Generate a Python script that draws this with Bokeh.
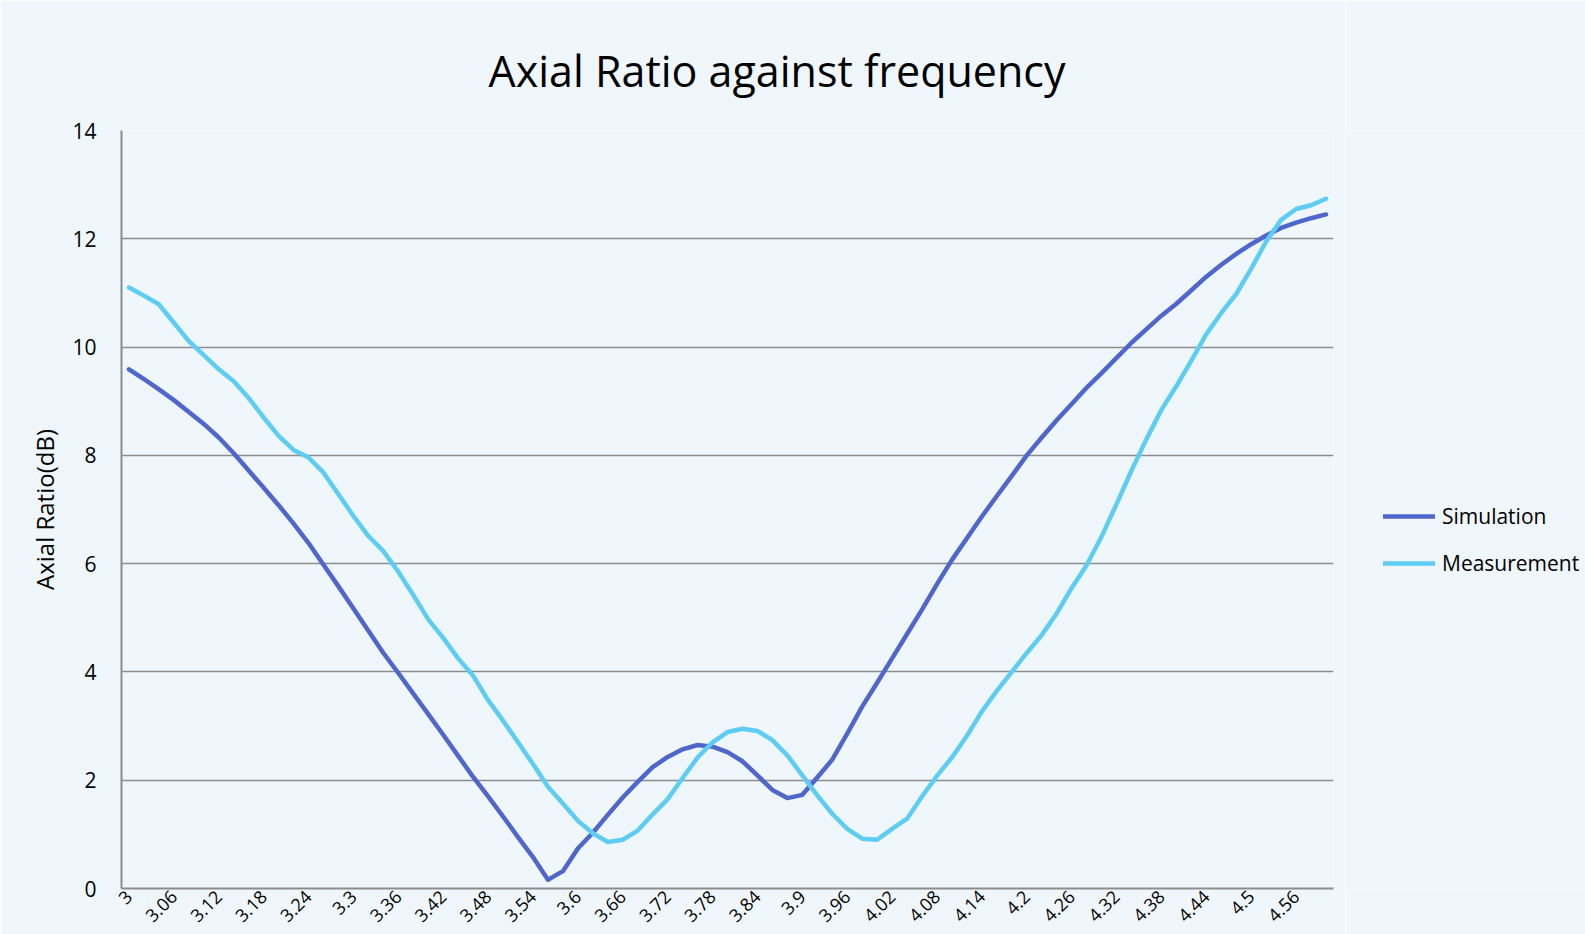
import math
from bokeh.plotting import figure
from bokeh.layouts import row
from bokeh.models import Range1d, FixedTicker, Legend, LegendItem
from bokeh.embed import file_html
from bokeh.resources import INLINE

freq_labels = [
    "3", "3.02", "3.04", "3.06", "3.08", "3.1", "3.12", "3.14", "3.16", "3.18",
    "3.2", "3.22", "3.24", "3.26", "3.28", "3.3", "3.32", "3.34", "3.36", "3.38",
    "3.4", "3.42", "3.44", "3.46", "3.48", "3.5", "3.52", "3.54", "3.56", "3.58",
    "3.6", "3.62", "3.64", "3.66", "3.68", "3.7", "3.72", "3.74", "3.76", "3.78",
    "3.8", "3.82", "3.84", "3.86", "3.88", "3.9", "3.92", "3.94", "3.96", "3.98",
    "4", "4.02", "4.04", "4.06", "4.08", "4.1", "4.12", "4.14", "4.16", "4.18",
    "4.2", "4.22", "4.24", "4.26", "4.28", "4.3", "4.32", "4.34", "4.36", "4.38",
    "4.4", "4.42", "4.44", "4.46", "4.48", "4.5", "4.52", "4.54", "4.56", "4.58",
    "4.6",
]

simulation = [
    9.59, 9.41, 9.22, 9.02, 8.80, 8.58, 8.33, 8.04, 7.72, 7.40,
    7.08, 6.74, 6.38, 5.98, 5.58, 5.17, 4.76, 4.35, 3.98, 3.60,
    3.22, 2.84, 2.45, 2.06, 1.70, 1.33, 0.95, 0.58, 0.16, 0.32,
    0.74, 1.03, 1.36, 1.68, 1.97, 2.24, 2.43, 2.57, 2.65, 2.62,
    2.52, 2.35, 2.09, 1.82, 1.67, 1.73, 2.05, 2.38, 2.86, 3.36,
    3.80, 4.25, 4.70, 5.15, 5.62, 6.07, 6.47, 6.87, 7.25, 7.62,
    8.00, 8.33, 8.65, 8.95, 9.25, 9.52, 9.80, 10.08, 10.33, 10.58,
    10.80, 11.05, 11.30, 11.52, 11.72, 11.90, 12.06, 12.20, 12.30, 12.38,
    12.45,
]

measurement = [
    11.10, 10.95, 10.79, 10.45, 10.11, 9.85, 9.59, 9.37, 9.06, 8.70,
    8.36, 8.10, 7.96, 7.68, 7.28, 6.88, 6.51, 6.23, 5.85, 5.42,
    4.97, 4.63, 4.25, 3.93, 3.48, 3.10, 2.70, 2.30, 1.88, 1.57,
    1.25, 1.02, 0.86, 0.90, 1.07, 1.37, 1.65, 2.04, 2.42, 2.70,
    2.89, 2.95, 2.91, 2.74, 2.46, 2.09, 1.72, 1.38, 1.10, 0.92,
    0.90, 1.10, 1.29, 1.70, 2.08, 2.42, 2.82, 3.27, 3.65, 4.00,
    4.35, 4.68, 5.08, 5.55, 5.97, 6.50, 7.10, 7.72, 8.30, 8.84,
    9.28, 9.75, 10.24, 10.63, 10.98, 11.45, 11.95, 12.35, 12.55, 12.62,
    12.74,
]

series_names = ["Simulation", "Measurement"]
series_colors = ["#4F66CC", "#5DCDF3"]

x = list(range(len(freq_labels)))
FONT = "Open Sans"
BG = "#F0F7FC"
W_MAIN = 1345
W_LEG = 1585 - W_MAIN
H = 934

p = figure(width=W_MAIN, height=H, output_backend="svg", toolbar_location=None,
           x_range=Range1d(-0.5, len(freq_labels) - 0.5), y_range=Range1d(0, 14),
           min_border_left=121, min_border_right=W_MAIN - 1333, min_border_top=130,
           min_border_bottom=46)

p.background_fill_color = BG
p.border_fill_color = BG
p.outline_line_color = None

p.title.text = "Axial Ratio against frequency"
p.title.text_font = FONT
p.title.text_font_size = "43px"
p.title.text_font_style = "normal"
p.title.text_color = "#000000"
p.title.align = "left"
p.title.offset = 367
p.title.standoff = 61

# x axis
xa = p.xaxis[0]
xa.ticker = FixedTicker(ticks=x[::3])
xa.major_label_overrides = {i: freq_labels[i] for i in x[::3]}
xa.major_label_orientation = math.pi / 4
xa.major_label_text_font = FONT
xa.major_label_text_font_size = "18px"
xa.major_label_text_color = "#000000"
xa.major_label_standoff = 5
xa.major_tick_out = 0
xa.major_tick_in = 0
xa.major_tick_line_color = None
xa.minor_tick_line_color = None
xa.axis_line_color = "#8C8C8C"
xa.axis_line_width = 2

# y axis
ya = p.yaxis[0]
ya.ticker = FixedTicker(ticks=[0, 2, 4, 6, 8, 10, 12, 14])
ya.axis_label = "Axial Ratio(dB)"
ya.axis_label_text_font = FONT
ya.axis_label_text_font_size = "24px"
ya.axis_label_text_font_style = "normal"
ya.axis_label_text_color = "#000000"
ya.axis_label_standoff = 8
ya.major_label_text_font = FONT
ya.major_label_text_font_size = "21px"
ya.major_label_text_color = "#000000"
ya.major_label_standoff = 25
ya.major_tick_out = 0
ya.major_tick_in = 0
ya.major_tick_line_color = None
ya.minor_tick_line_color = None
ya.axis_line_color = "#8C8C8C"
ya.axis_line_width = 2

p.xgrid.grid_line_color = None
p.ygrid.grid_line_color = "#8C8C8C"
p.ygrid.grid_line_width = 1.5

for vals, color in zip([simulation, measurement], series_colors):
    p.line(x, vals, line_color=color, line_width=4.5,
           line_join="round", line_cap="round")

# legend panel (separate figure to the right of the plot); its proxy lines use
# the same data but lie outside its visible range, so only the legend shows
pl = figure(width=W_LEG, height=H, output_backend="svg", toolbar_location=None,
            x_axis_type=None, y_axis_type=None, min_border=0,
            x_range=Range1d(-3, -2), y_range=Range1d(-3, -2))
pl.background_fill_color = BG
pl.border_fill_color = BG
pl.outline_line_color = None
pl.grid.grid_line_color = None

proxies = [pl.line(x, vals, line_color=c, line_width=4.5, line_cap="round")
           for vals, c in zip([simulation, measurement], series_colors)]

legend = Legend(
    items=[LegendItem(label=n, renderers=[r]) for n, r in zip(series_names, proxies)],
    location=(38, 305),
    label_text_font=FONT, label_text_font_size="21px", label_text_color="#000000",
    glyph_width=52, glyph_height=40, label_standoff=7, spacing=7,
    padding=0, margin=0, border_line_color=None, background_fill_alpha=0,
)
pl.add_layout(legend, "center")

layout = row(p, pl, spacing=0)
open("out.html", "w").write(file_html(layout, INLINE))
